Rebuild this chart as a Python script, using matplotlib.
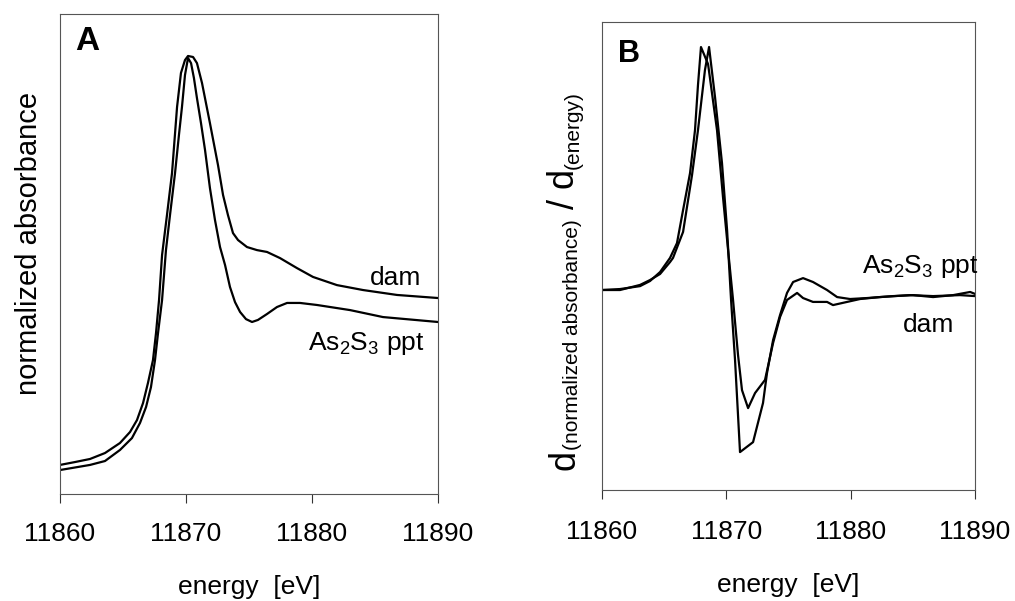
import matplotlib
matplotlib.use("Agg")
import matplotlib.pyplot as plt

plt.rcParams['font.family'] = ['Liberation Sans', 'DejaVu Sans']
plt.rcParams['mathtext.fontset'] = 'custom'
plt.rcParams['mathtext.rm'] = 'Liberation Sans'
plt.rcParams['mathtext.it'] = 'Liberation Sans:italic'
plt.rcParams['mathtext.default'] = 'regular'

# ---------------- Panel A: normalized absorbance ----------------
energy_dam_A = [11860.0, 11861.19, 11862.38, 11863.57, 11864.76, 11865.56, 11866.11,
                11866.59, 11866.98, 11867.38, 11867.62, 11867.86, 11868.10, 11868.49,
                11868.89, 11869.29, 11869.60, 11869.92, 11870.16, 11870.56, 11870.87,
                11871.27, 11871.90, 11872.54, 11872.94, 11873.33, 11873.73, 11874.13,
                11874.84, 11875.63, 11876.43, 11877.46, 11878.81, 11880.08, 11881.98,
                11884.05, 11886.75, 11890.0]
absorb_dam_A = [0.018, 0.035, 0.053, 0.088, 0.147, 0.212, 0.282,
                0.382, 0.500, 0.635, 0.794, 0.988, 1.253, 1.488,
                1.735, 2.124, 2.324, 2.400, 2.424, 2.418, 2.382,
                2.265, 2.029, 1.782, 1.606, 1.488, 1.382, 1.341,
                1.300, 1.282, 1.271, 1.235, 1.176, 1.124, 1.076,
                1.047, 1.018, 1.000]

energy_as2s3_A = [11860.0, 11862.38, 11863.57, 11864.76, 11865.71, 11866.35, 11866.83,
                  11867.22, 11867.54, 11867.78, 11868.10, 11868.41, 11868.73, 11869.13,
                  11869.44, 11869.68, 11869.92, 11870.16, 11870.40, 11870.63, 11870.87,
                  11871.19, 11871.51, 11871.90, 11872.30, 11872.70, 11873.10, 11873.49,
                  11873.89, 11874.29, 11874.76, 11875.24, 11875.71, 11876.43, 11877.22,
                  11878.02, 11879.05, 11880.40, 11883.02, 11885.63, 11890.0]
absorb_as2s3_A = [-0.012, 0.018, 0.041, 0.106, 0.176, 0.265, 0.359,
                  0.476, 0.635, 0.794, 0.988, 1.282, 1.488, 1.735,
                  1.959, 2.124, 2.312, 2.412, 2.382, 2.294, 2.176,
                  2.029, 1.871, 1.647, 1.459, 1.300, 1.194, 1.065,
                  0.976, 0.918, 0.876, 0.859, 0.871, 0.906, 0.947,
                  0.971, 0.971, 0.959, 0.929, 0.888, 0.859]

# ---------------- Panel B: first derivative ----------------
energy_dam_B = [11860.00, 11861.45, 11863.06, 11863.86, 11864.67, 11865.47, 11866.03,
                11866.52, 11867.08, 11867.48, 11867.72, 11867.96, 11868.53, 11869.25,
                11869.73, 11870.14, 11870.54, 11870.94, 11871.26, 11871.75, 11872.31,
                11873.11, 11873.76, 11874.32, 11874.88, 11875.69, 11876.17, 11876.97,
                11878.10, 11878.58, 11879.71, 11880.76, 11882.36, 11884.78, 11886.63,
                11888.80, 11890.00]
deriv_dam_B = [0.000, 0.004, 0.016, 0.037, 0.074, 0.132, 0.193,
               0.329, 0.481, 0.658, 0.844, 1.000, 0.930, 0.658,
               0.383, 0.165, -0.041, -0.267, -0.412, -0.486, -0.424,
               -0.370, -0.218, -0.111, -0.041, -0.012, -0.033, -0.049,
               -0.049, -0.062, -0.049, -0.037, -0.029, -0.021, -0.025,
               -0.021, -0.025]

energy_as2s3_B = [11860.00, 11861.45, 11863.06, 11863.86, 11864.67, 11865.47, 11865.71,
                  11866.52, 11867.24, 11867.72, 11868.28, 11868.61, 11869.09, 11869.65,
                  11870.06, 11870.38, 11870.70, 11871.10, 11872.15, 11872.95, 11873.27,
                  11873.76, 11874.32, 11874.88, 11875.37, 11876.17, 11876.97, 11878.10,
                  11878.91, 11879.95, 11881.32, 11883.41, 11885.02, 11886.63, 11888.24,
                  11889.61, 11890.00]
deriv_as2s3_B = [0.000, 0.000, 0.021, 0.041, 0.066, 0.115, 0.132,
                 0.239, 0.473, 0.658, 0.905, 1.000, 0.794, 0.523,
                 0.247, -0.041, -0.288, -0.667, -0.626, -0.465, -0.342,
                 -0.206, -0.103, -0.012, 0.033, 0.049, 0.033, 0.000,
                 -0.029, -0.037, -0.033, -0.025, -0.021, -0.029, -0.021,
                 -0.008, -0.016]

energy_ticks = [11860, 11870, 11880, 11890]
energy_range = (11860, 11890)
series_labels = ["dam", "As$_2$S$_3$ ppt"]

W, H = 1015, 601
fig = plt.figure(figsize=(W / 100, H / 100), dpi=100)
axA = fig.add_axes([60 / W, 1 - 494 / H, 378 / W, 480 / H])
axB = fig.add_axes([602 / W, 1 - 490 / H, 373 / W, 468 / H])

line_kw = dict(color='black', lw=1.6, solid_joinstyle='round')
axA.plot(energy_dam_A, absorb_dam_A, **line_kw)
axA.plot(energy_as2s3_A, absorb_as2s3_A, **line_kw)
axB.plot(energy_dam_B, deriv_dam_B, **line_kw)
axB.plot(energy_as2s3_B, deriv_as2s3_B, **line_kw)

axA.set_ylim(-0.153, 2.671)
axB.set_ylim(-0.823, 1.103)

for ax, pad in ((axA, 13.5), (axB, 15.0)):
    ax.set_xlim(*energy_range)
    ax.set_xticks(energy_ticks)
    ax.set_yticks([])
    ax.tick_params(axis='x', direction='out', length=6.5, width=0.8,
                   labelsize=19, pad=pad, color='#333333')
    for s in ax.spines.values():
        s.set_linewidth(0.8)
        s.set_color('#555555')
    ax.set_xlabel('energy  [eV]', fontsize=19, va='baseline')

axA.xaxis.set_label_coords(0.5, -0.2083)
axB.xaxis.set_label_coords(0.5, -0.218)

# Panel A labels
axA.set_ylabel('normalized absorbance', fontsize=21, va='baseline', ha='center')
axA.yaxis.set_label_coords(-0.062, 0.521)
axA.text(11861.19, 2.459, 'A', fontsize=24, fontweight='bold', ha='left', va='baseline')
axA.text(11884.6, 1.076, series_labels[0], fontsize=19, ha='left', va='baseline')
axA.text(11879.68, 0.694, series_labels[1], fontsize=19, ha='left', va='baseline')

# Panel B labels
axB.text(11861.29, 0.938, 'B', fontsize=22, fontweight='bold', ha='left', va='baseline')
axB.text(11880.92, 0.070, series_labels[1], fontsize=19, ha='left', va='baseline')
axB.text(11884.22, -0.173, series_labels[0], fontsize=19, ha='left', va='baseline')

# Panel B y label: large "d" with small subscripts
big, small = 26, 15
drop = 2.8
rot_kw = dict(rotation=90, rotation_mode='anchor', ha='left', va='baseline')
t1 = fig.text(574 / W, 1 - 470 / H, 'd', fontsize=big, **rot_kw)
t2 = axB.annotate('(normalized absorbance)', xy=(1, 1), xycoords=t1,
                  xytext=(-0.21 * big + drop, 0), textcoords='offset points',
                  fontsize=small, annotation_clip=False, **rot_kw)
t3 = axB.annotate(' / d', xy=(1, 1), xycoords=t2,
                  xytext=(-0.21 * small - drop, 0), textcoords='offset points',
                  fontsize=big, annotation_clip=False, **rot_kw)
t4 = axB.annotate('(energy)', xy=(1, 1), xycoords=t3,
                  xytext=(-0.21 * big + drop, 0), textcoords='offset points',
                  fontsize=small, annotation_clip=False, **rot_kw)

fig.savefig('out.png', dpi=100)
